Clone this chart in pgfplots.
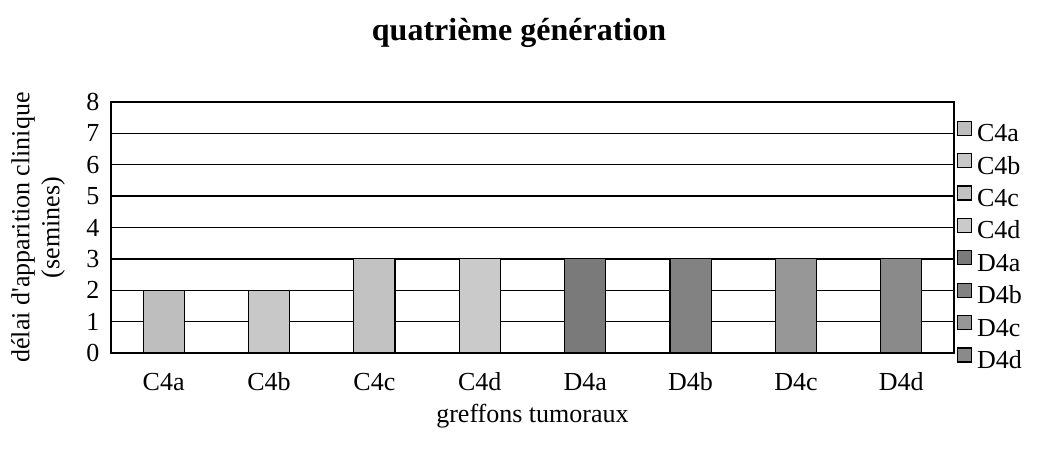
\documentclass[border=0pt]{standalone}
\usepackage{fontspec}
\setmainfont{Liberation Serif}
\usepackage{pgfplots}
\pgfplotsset{compat=1.18}
\definecolor{cA}{HTML}{BEBEBE}
\definecolor{cB}{HTML}{C8C8C8}
\definecolor{cC}{HTML}{C2C2C2}
\definecolor{cD}{HTML}{CACACA}
\definecolor{dA}{HTML}{7A7A7A}
\definecolor{dB}{HTML}{828282}
\definecolor{dC}{HTML}{979797}
\definecolor{dD}{HTML}{8A8A8A}
\pgfplotsset{mybar/.style={ybar, bar width=0.39, bar shift=0pt, draw=black, line width=0.9pt, fill=#1,
  legend image code/.code={\draw[##1,line width=0.8pt] (0pt,0pt) rectangle (10.5pt,10.5pt);}}}
\begin{document}
\begin{tikzpicture}
\useasboundingbox (-83.25pt,-73.5pt) rectangle (710.25pt,264.75pt);
\begin{axis}[
  at={(0,0)}, anchor=south west,
  scale only axis, width=632.25pt, height=188.25pt,
  xmin=0, xmax=8, ymin=0, ymax=8,
  xtick={0.5,1.5,...,7.5},
  xticklabels={C4a,C4b,C4c,C4d,D4a,D4b,D4c,D4d},
  ytick={0,1,...,8},
  major tick length=0pt,
  tick style={draw=none},
  ymajorgrids,
  major grid style={black, line width=1pt},
  axis line style={black, line width=1pt},
  font=\fontsize{19.5}{22.5}\selectfont,
  /pgf/number format/assume math mode=true,
  xticklabel style={anchor=base, inner sep=0pt, yshift=-27.75pt},
  yticklabel style={anchor=east, inner sep=0pt, xshift=-8.5pt},
  title={quatrième génération},
  title style={font=\fontsize{24}{28}\selectfont\bfseries, at={(axis description cs:0.484,1.215)}, anchor=base, inner sep=0pt},
  xlabel={greffons tumoraux},
  xlabel style={at={(axis description cs:0.5,-0.2749)}, anchor=base, inner sep=0pt},
  ylabel={délai d\textquotesingle apparition clinique\\(semines)},
  ylabel style={at={(axis description cs:-0.0866,0.5)}, anchor=center, align=center, inner sep=0pt},
  legend cell align=left,
  legend style={at={(axis description cs:1.004,0.416)}, anchor=west, draw=none, fill=none,
    inner sep=0pt, outer sep=0pt, row sep=0pt,
    nodes={inner sep=0pt, text height=17pt, text depth=7.3pt},
    /tikz/every odd column/.append style={column sep=3.5pt}},
]
\addplot[mybar=cA] coordinates {(0.5,2)};
\addlegendentry{C4a}
\addplot[mybar=cB] coordinates {(1.5,2)};
\addlegendentry{C4b}
\addplot[mybar=cC] coordinates {(2.5,3)};
\addlegendentry{C4c}
\addplot[mybar=cD] coordinates {(3.5,3)};
\addlegendentry{C4d}
\addplot[mybar=dA] coordinates {(4.5,3)};
\addlegendentry{D4a}
\addplot[mybar=dB] coordinates {(5.5,3)};
\addlegendentry{D4b}
\addplot[mybar=dC] coordinates {(6.5,3)};
\addlegendentry{D4c}
\addplot[mybar=dD] coordinates {(7.5,3)};
\addlegendentry{D4d}
\end{axis}
\end{tikzpicture}
\end{document}
